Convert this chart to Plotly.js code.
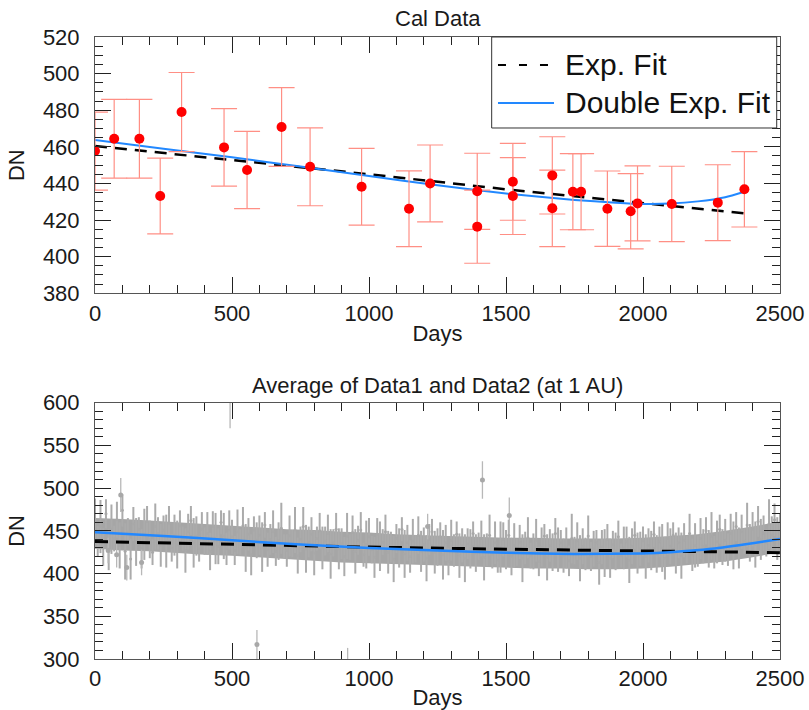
<!DOCTYPE html>
<html>
<head>
<meta charset="utf-8">
<script src="https://cdn.plot.ly/plotly-3.0.1.min.js"></script>
<style>
  html, body { margin: 0; padding: 0; background: #ffffff; }
  #chart { width: 809px; height: 710px; }
</style>
</head>
<body>
<div id="chart"></div>
<script>
// ---------- Top panel: Cal Data ----------
const calDays = [0, 70, 162, 238, 316, 471, 555, 681, 785, 973, 1146, 1223, 1395, 1395, 1525, 1525, 1669, 1669, 1744, 1774, 1870, 1955, 1980, 2105, 2273, 2370];
const calVals = [457.7, 464.4, 464.4, 433.1, 479.0, 459.7, 447.3, 470.8, 449.1, 438.2, 426.2, 440.0, 435.7, 416.4, 440.9, 433.1, 444.4, 426.4, 435.5, 435.5, 426.2, 424.8, 429.1, 428.8, 429.5, 436.8];
const calErr  = [21.3, 21.5, 21.5, 20.7, 21.6, 21.2, 21.1, 21.5, 21.3, 21.0, 20.7, 21.0, 20.8, 20.0, 21.0, 21.0, 21.1, 20.9, 20.8, 20.8, 20.6, 20.6, 20.5, 20.6, 20.7, 20.6];

const expFitDays = [0, 250, 500, 750, 1000, 1250, 1500, 1750, 2000, 2250, 2370];
const expFitVals = [460.5, 456.5, 452.7, 448.9, 445.0, 440.8, 436.8, 433.0, 429.2, 425.5, 423.7];

const dblFitDays = [0, 250, 500, 750, 1000, 1250, 1500, 1750, 1900, 2000, 2100, 2200, 2300, 2370];
const dblFitVals = [463.7, 459.0, 454.3, 449.2, 444.0, 439.0, 434.5, 431.0, 429.5, 428.8, 429.0, 430.2, 432.5, 435.5];

// ---------- Bottom panel: Average of Data1 and Data2 ----------
// dense core of the daily values (read every 100 days)
const coreDays  = [0, 100, 200, 300, 400, 500, 600, 700, 800, 900, 1000, 1100, 1200, 1300, 1400, 1500, 1600, 1700, 1800, 1900, 2000, 2100, 2200, 2300, 2400, 2500];
const coreUpper = [465, 464, 462, 460, 458, 456, 454, 452, 451, 449, 448, 446, 445, 444, 443, 442, 442, 441, 441, 441, 442, 444, 446, 450, 455, 461];
const coreLower = [429, 427, 426, 424, 422, 421, 419, 417, 415, 413, 412, 411, 410, 409, 408, 407, 406, 406, 405, 405, 406, 408, 411, 414, 419, 425];

// samples every 10 days starting at day 0
const avgStartDay = 0;
const avgStepDays = 10;
const avgVals = [
  462, 438, 455, 431, 470,   428, 452, 441, 463, 433,
  474, 426, 449, 417, 458,   437, 452, 429, 446, 461,
  440, 425, 455, 447, 433,   451, 438, 459, 430, 445,
  434, 456, 441, 427, 449,   462, 436, 444, 429, 452,
  438, 447, 426, 455, 441,   432, 460, 444, 429, 451,
  443, 427, 449, 437, 456,   430, 446, 422, 451, 439,
  445, 431, 457, 428, 440,   449, 426, 438, 453, 432,
  427, 444, 435, 451, 421,   440, 455, 429, 437, 446,
  424, 441, 450, 430, 438,   447, 423, 436, 452, 429,
  435, 420, 444, 431, 448,   426, 439, 451, 422, 434,
  443, 428, 419, 446, 432,   437, 449, 425, 431, 417,
  441, 430, 452, 423, 436,   420, 438, 429, 445, 426,
  434, 418, 440, 449, 425,   431, 443, 422, 436, 414,
  439, 427, 446, 421, 433,   418, 435, 429, 447, 424,
  432, 441, 419, 428, 445,   423, 436, 416, 431, 440,
  428, 445, 420, 433, 425,   437, 418, 430, 442, 421,
  426, 439, 414, 431, 444,   419, 433, 425, 447, 428,
  436, 421, 430, 415, 441,   427, 438, 418, 432, 423,
  444, 420, 429, 436, 413,   431, 424, 440, 418, 434,
  426, 443, 421, 430, 437,   416, 432, 445, 424, 429,
  438, 420, 433, 427, 446,   423, 437, 430, 418, 441,
  432, 445, 424, 436, 421,   439, 428, 447, 422, 433,
  426, 441, 432, 450, 429,   444, 425, 437, 452, 431,
  439, 428, 447, 433, 455,   430, 449, 438, 457, 436,
  452, 434, 461, 440, 447,   436, 458, 445, 463, 441,
  450
];
const avgErr = [
  26, 18, 31, 22, 17, 24, 29, 15, 21, 27,
  19, 33, 16, 24, 20, 28, 14, 23, 30, 18,
  22, 15, 27, 19, 25, 17, 31, 20, 16, 24,
  28, 18, 14, 26, 21, 17, 29, 23, 15, 20,
  16, 25, 22, 18, 30, 21, 14, 27, 19, 23,
  20, 17, 26, 15, 22, 28, 19, 24, 16, 21,
  23, 29, 15, 20, 18, 25, 17, 22, 30, 14,
  19, 24, 16, 27, 21, 15, 23, 28, 18, 20,
  26, 14, 21, 25, 17, 22, 29, 16, 19, 24,
  18, 23, 27, 15, 20, 26, 17, 21, 14, 28,
  22, 16, 24, 19, 29, 15, 20, 25, 18, 27,
  17, 23, 14, 28, 21, 19, 26, 16, 22, 24,
  20, 27, 18, 15, 25, 22, 17, 29, 21, 16,
  24, 19, 15, 26, 20, 28, 18, 23, 14, 22,
  16, 21, 27, 19, 24, 17, 25, 15, 30, 20,
  23, 18, 22, 26, 16, 20, 28, 19, 24, 15,
  21, 25, 17, 23, 14, 27, 19, 22, 18, 26,
  15, 20, 24, 18, 29, 16, 22, 27, 21, 19,
  24, 17, 21, 15, 26, 20, 28, 18, 23, 16,
  22, 19, 14, 25, 18, 27, 21, 16, 24, 20,
  17, 26, 20, 23, 15, 22, 18, 28, 25, 19,
  21, 15, 24, 18, 27, 20, 16, 23, 19, 26,
  18, 24, 20, 16, 22, 28, 19, 25, 17, 21,
  25, 19, 23, 28, 17, 24, 20, 15, 26, 22,
  20, 27, 18, 24, 21, 16, 29, 22, 19, 25,
  20
];

const outDays = [48, 79, 94, 116, 170, 493, 591, 922, 1214, 1414, 1512];
const outVals = [427, 422, 492, 407, 413, 605, 317, 290, 455, 509.5, 468];
const outErr  = [15, 15, 20, 15, 15, 35, 17, 23, 15, 22, 21];

const expFit2Days = [0, 500, 1000, 1500, 2000, 2500];
const expFit2Vals = [437.5, 434.0, 431.0, 428.5, 426.5, 424.5];

const dblFit2Days = [0, 250, 500, 750, 1000, 1250, 1500, 1750, 2000, 2100, 2250, 2400, 2500];
const dblFit2Vals = [448.5, 444.0, 439.0, 434.0, 430.0, 427.0, 424.5, 423.0, 423.5, 425.0, 429.0, 435.5, 440.5];

// ---------- styles ----------
const FONT = '"Liberation Sans", Arial, Helvetica, sans-serif';
const BLUE = '#2288ff';
const RED = '#ff0000';
const SALMON = '#ff8f85';
const GRAY = '#a8a8a8';
const CORE = '#a6a6a6';

const traces = [
  // top panel
  { x: expFitDays, y: expFitVals, xaxis: 'x', yaxis: 'y', mode: 'lines',
    line: { color: '#000', width: 2.5, dash: '12px,8px' }, name: 'Exp. Fit', hoverinfo: 'skip' },
  { x: dblFitDays, y: dblFitVals, xaxis: 'x', yaxis: 'y', mode: 'lines',
    line: { color: BLUE, width: 2, shape: 'spline', smoothing: 0.6 }, name: 'Double Exp. Fit', hoverinfo: 'skip' },
  { x: calDays, y: calVals, xaxis: 'x', yaxis: 'y', mode: 'markers',
    marker: { color: RED, size: 10 },
    error_y: { type: 'data', array: calErr, visible: true, color: SALMON, thickness: 1.2, width: 13 },
    name: 'Cal Data' },
  // bottom panel
  { x: coreDays, y: coreLower, xaxis: 'x2', yaxis: 'y2', mode: 'lines',
    line: { width: 0, color: CORE }, hoverinfo: 'skip', name: 'core low' },
  { x: coreDays, y: coreUpper, xaxis: 'x2', yaxis: 'y2', mode: 'lines', fill: 'tonexty',
    fillcolor: CORE, line: { width: 0, color: CORE }, hoverinfo: 'skip', name: 'core high' },
  { x0: avgStartDay, dx: avgStepDays, y: avgVals, xaxis: 'x2', yaxis: 'y2', mode: 'markers',
    marker: { color: GRAY, size: 3 },
    error_y: { type: 'data', array: avgErr, visible: true, color: '#ababab', thickness: 2, width: 0 },
    name: 'Average' },
  { x: outDays, y: outVals, xaxis: 'x2', yaxis: 'y2', mode: 'markers',
    marker: { color: GRAY, size: 5 },
    error_y: { type: 'data', array: outErr, visible: true, color: '#b8b8b8', thickness: 1.3, width: 0 },
    name: 'Average outliers' },
  { x: expFit2Days, y: expFit2Vals, xaxis: 'x2', yaxis: 'y2', mode: 'lines',
    line: { color: '#000', width: 3, dash: '13px,8px' }, name: 'Exp. Fit (avg)', hoverinfo: 'skip' },
  { x: dblFit2Days, y: dblFit2Vals, xaxis: 'x2', yaxis: 'y2', mode: 'lines',
    line: { color: BLUE, width: 2.5, shape: 'spline', smoothing: 0.6 }, name: 'Double Exp. Fit (avg)', hoverinfo: 'skip' }
];

function xAxis(anchor) {
  return {
    anchor: anchor, range: [0, 2500], tick0: 0, dtick: 500,
    ticks: 'inside', ticklen: 16, tickwidth: 1, tickcolor: '#222',
    minor: { ticks: 'inside', dtick: 100, ticklen: 8, tickwidth: 1, tickcolor: '#222' },
    mirror: 'ticks', showline: true, linecolor: '#555', linewidth: 1,
    showgrid: false, zeroline: false,
    tickfont: { family: FONT, size: 22, color: '#1a1a1a' },
    title: { text: 'Days', font: { family: FONT, size: 22, color: '#1a1a1a' }, standoff: 0 }
  };
}
function yAxis(anchor, domain, range, dtick, minorDtick) {
  return {
    anchor: anchor, domain: domain, range: range, tick0: 0, dtick: dtick,
    ticks: 'inside', ticklen: 16, tickwidth: 1, tickcolor: '#222',
    minor: { ticks: 'inside', dtick: minorDtick, ticklen: 8, tickwidth: 1, tickcolor: '#222' },
    mirror: 'ticks', showline: true, linecolor: '#555', linewidth: 1,
    showgrid: false, zeroline: false, ticklabelstandoff: 10,
    tickfont: { family: FONT, size: 22, color: '#1a1a1a' },
    title: { text: 'DN', font: { family: FONT, size: 22, color: '#1a1a1a' }, standoff: 12 }
  };
}

// legend geometry (paper coordinates)
const L = { x0: 0.5791, x1: 0.9952, y0: 0.8537, y1: 1.0, sx0: 0.5883, sx1: 0.6701, tx: 0.6832, r1: 0.955, r2: 0.8939 };

const layout = {
  width: 809, height: 710,
  margin: { l: 95, r: 29, t: 37, b: 51 },
  paper_bgcolor: '#ffffff', plot_bgcolor: '#ffffff',
  font: { family: FONT, size: 22, color: '#1a1a1a' },
  showlegend: false,
  xaxis: xAxis('y'),
  yaxis: yAxis('x', [0.588, 1], [380, 520], 20, 5),
  xaxis2: xAxis('y2'),
  yaxis2: yAxis('x2', [0, 0.412], [300, 600], 50, 10),
  shapes: [
    { type: 'rect', xref: 'paper', yref: 'paper', x0: L.x0, x1: L.x1, y0: L.y0, y1: L.y1,
      line: { color: '#333', width: 1 }, fillcolor: '#ffffff', layer: 'above' },
    { type: 'line', xref: 'paper', yref: 'paper', x0: L.sx0, x1: L.sx1, y0: L.r1, y1: L.r1,
      line: { color: '#000', width: 2, dash: '8px,13px' }, layer: 'above' },
    { type: 'line', xref: 'paper', yref: 'paper', x0: L.sx0, x1: L.sx1, y0: L.r2, y1: L.r2,
      line: { color: BLUE, width: 2 }, layer: 'above' }
  ],
  annotations: [
    { text: 'Cal Data', xref: 'paper', yref: 'paper', x: 0.5, y: 1.029, xanchor: 'center', yanchor: 'middle',
      showarrow: false, font: { family: FONT, size: 22, color: '#1a1a1a' } },
    { text: 'Average of Data1 and Data2 (at 1 AU)', xref: 'paper', yref: 'paper', x: 0.5, y: 0.4397,
      xanchor: 'center', yanchor: 'middle', showarrow: false, font: { family: FONT, size: 22, color: '#1a1a1a' } },
    { text: 'Exp. Fit', xref: 'paper', yref: 'paper', x: L.tx, y: L.r1, xanchor: 'left', yanchor: 'middle',
      showarrow: false, font: { family: FONT, size: 30, color: '#111' } },
    { text: 'Double Exp. Fit', xref: 'paper', yref: 'paper', x: L.tx, y: L.r2, xanchor: 'left', yanchor: 'middle',
      showarrow: false, font: { family: FONT, size: 30, color: '#111' } }
  ]
};

Plotly.newPlot('chart', traces, layout, { displayModeBar: false, staticPlot: true });
</script>
</body>
</html>
